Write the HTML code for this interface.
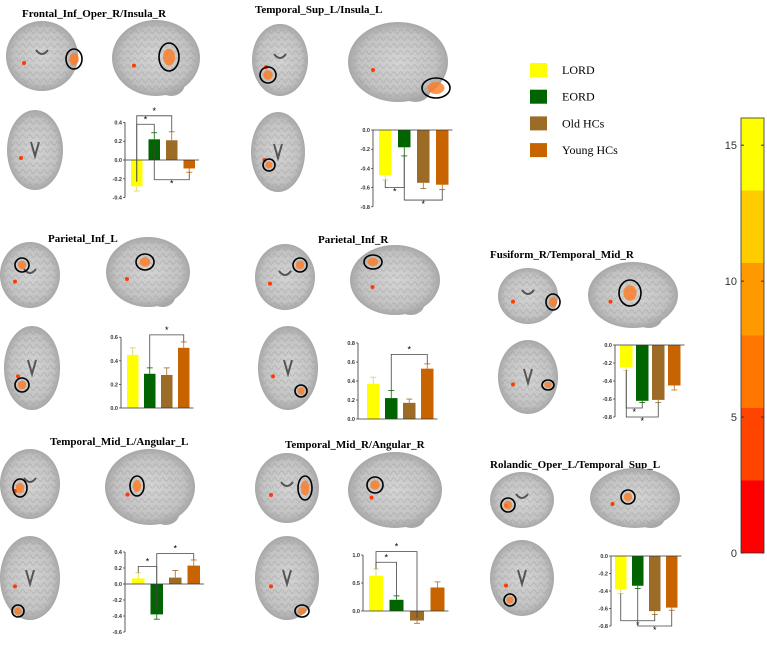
<!DOCTYPE html>
<html><head><meta charset="utf-8"><style>
body{margin:0;background:#fff}
svg{display:block}
.t{font-family:"Liberation Serif",serif;font-weight:bold;font-size:11px}
.tk{font-family:"Liberation Sans",sans-serif;font-size:5.5px;font-weight:bold;fill:#333}
.lg{font-family:"Liberation Serif",serif;font-size:12px}
.cb{font-family:"Liberation Sans",sans-serif;font-size:11px;fill:#333}
</style></head><body>
<svg id="s" width="767" height="645" viewBox="0 0 767 645" xmlns="http://www.w3.org/2000/svg">
<defs>
<radialGradient id="bg" cx="50%" cy="50%" r="55%"><stop offset="0" stop-color="#d4d4d4"/><stop offset="0.7" stop-color="#c2c2c2"/><stop offset="1" stop-color="#9a9a9a"/></radialGradient>
<pattern id="gy" width="7" height="7" patternUnits="userSpaceOnUse"><path d="M0 3.5 Q1.75 0 3.5 3.5 T7 3.5" stroke="#7a7a7a" stroke-width="0.7" fill="none"/></pattern>
</defs>
</svg>
<script>
const groups=['LORD','EORD','Old HCs','Young HCs'];
const colors=['#ffff00','#006400','#9c6b26','#c86400'];
const v1=[-0.28,0.22,0.21,-0.09], e1=[0.05,0.07,0.09,0.04], t1=[0.4,0.2,0.0,-0.2,-0.4];
const v2=[-0.47,-0.18,-0.55,-0.57], e2=[0.05,0.09,0.06,0.05], t2=[0.0,-0.2,-0.4,-0.6,-0.8];
const v3=[0.45,0.29,0.28,0.51], e3=[0.06,0.05,0.06,0.05], t3=[0.6,0.4,0.2,0.0];
const v4=[0.37,0.22,0.17,0.53], e4=[0.07,0.08,0.04,0.05], t4=[0.8,0.6,0.4,0.2,0.0];
const v5=[-0.25,-0.62,-0.61,-0.45], e5=[0.03,0.02,0.03,0.05], t5=[0.0,-0.2,-0.4,-0.6,-0.8];
const v6=[0.07,-0.38,0.08,0.23], e6=[0.07,0.06,0.09,0.07], t6=[0.4,0.2,0.0,-0.2,-0.4,-0.6];
const v7=[0.63,0.20,-0.17,0.42], e7=[0.12,0.07,0.05,0.10], t7=[1.0,0.5,0.0];
const v8=[-0.38,-0.34,-0.63,-0.59], e8=[0.05,0.03,0.04,0.03], t8=[0.0,-0.2,-0.4,-0.6,-0.8];
const b1=[[0,1,0.38],[0,2,0.47],[1,3,-0.21]];
const b2=[[0,1,-0.60],[1,3,-0.73]];
const b3=[[1,3,0.62]];
const b4=[[1,3,0.68]];
const b5=[[0,1,-0.70],[0,2,-0.80]];
const b6=[[0,1,0.22],[1,3,0.38]];
const b7=[[0,1,0.87],[0,2,1.06]];
const b8=[[0,2,-0.74],[1,3,-0.80]];
const cbTicks=[0,5,10,15];
const cbBands=['#ff0000','#ff4400','#ff7700','#ff9900','#ffcc00','#ffff00'];

const S=document.getElementById('s'),NS='http://www.w3.org/2000/svg';
function mk(tag,at,par){const e=document.createElementNS(NS,tag);for(const k in at)e.setAttribute(k,at[k]);(par||S).appendChild(e);return e;}

const charts=[
 {v:v1,e:e1,t:t1,b:b1,ax:125,y0:160,k:94,x0:131,st:17.5,w:11.5},
 {v:v2,e:e2,t:t2,b:b2,ax:373,y0:130,k:96,x0:379,st:19,w:12.5},
 {v:v3,e:e3,t:t3,b:b3,ax:121,y0:408,k:118,x0:127,st:17,w:11.5},
 {v:v4,e:e4,t:t4,b:b4,ax:358,y0:419,k:95,x0:367,st:18,w:12.5},
 {v:v5,e:e5,t:t5,b:b5,ax:615,y0:345,k:90,x0:620,st:16,w:12.5},
 {v:v6,e:e6,t:t6,b:b6,ax:125,y0:584,k:80,x0:132,st:18.5,w:12.5},
 {v:v7,e:e7,t:t7,b:b7,ax:363,y0:611,k:56,x0:369,st:20.5,w:14},
 {v:v8,e:e8,t:t8,b:b8,ax:611,y0:556,k:87.5,x0:615,st:17,w:11.5}
];
charts.forEach((c,ci)=>{
 const g=mk('g',{});
 
 
 const y=v=>c.y0-v*c.k;
 const bx=i=>c.x0+i*c.st;
 const tmax=Math.max(...c.t),tmin=Math.min(...c.t);
 mk('line',{x1:c.ax,x2:c.ax,y1:y(tmax),y2:y(tmin),stroke:'#333','stroke-width':0.8},g);
 c.t.forEach(tv=>{
  mk('line',{x1:c.ax-2,x2:c.ax,y1:y(tv),y2:y(tv),stroke:'#333','stroke-width':0.7},g);
  const tx=mk('text',{x:c.ax-3,y:y(tv)+2,'text-anchor':'end',class:'tk'},g);
  tx.textContent=tv.toFixed(1);
 });
 c.v.forEach((v,i)=>{
  const top=Math.min(y(v),c.y0),h=Math.abs(y(v)-c.y0);
  const r=mk('rect',{x:bx(i),y:top,width:c.w,height:h,fill:colors[i]},g);
  
  
  const sg=v>=0?1:-1,ee=y(v+sg*c.e[i]),cx=bx(i)+c.w/2;
  const ec=colors[i]==='#ffff00'?'#e0d060':colors[i];
  mk('line',{x1:cx,x2:cx,y1:y(v),y2:ee,stroke:ec,'stroke-width':0.8},g);
  mk('line',{x1:cx-3,x2:cx+3,y1:ee,y2:ee,stroke:ec,'stroke-width':0.8},g);
 });
 mk('line',{x1:c.ax,x2:bx(3)+c.w+4,y1:c.y0,y2:c.y0,stroke:'#333','stroke-width':0.8},g);
 c.b.forEach(([i,j,lv])=>{
  const xi=bx(i)+c.w/2,xj=bx(j)+c.w/2,yl=y(lv);
  const ei=y(c.v[i]+(lv>0?1:-1)*c.e[i]),ej=y(c.v[j]+(lv>0?1:-1)*c.e[j]);
  const p=mk('path',{d:`M${xi} ${ei} L${xi} ${yl} L${xj} ${yl} L${xj} ${ej}`,fill:'none',stroke:'#444','stroke-width':0.8},g);
  
  
  const st=mk('text',{x:(xi+xj)/2,y:lv>0?yl-2:yl+7,'text-anchor':'middle',style:'font-size:9px;font-family:Liberation Sans,sans-serif'},g);
  st.textContent='*';
 });
});

const panels=[
 {title:'Frontal_Inf_Oper_R/Insula_R',tx:22,ty:17,cor:[42,56,36,35],sag:[156,58,44,38],ax:[35,150,28,40],c:[[74,59,8,10],[169,57,10,14]]},
 {title:'Temporal_Sup_L/Insula_L',tx:255,ty:13,cor:[280,60,28,36],sag:[398,62,50,40],ax:[278,152,27,40],c:[[268,75,8,8],[436,88,14,10],[269,165,6,6]]},
 {title:'Parietal_Inf_L',tx:48,ty:242,cor:[30,275,30,33],sag:[148,272,42,35],ax:[32,368,28,42],c:[[22,265,7,7],[145,262,9,8],[22,385,7,7]]},
 {title:'Parietal_Inf_R',tx:318,ty:243,cor:[285,277,30,33],sag:[395,280,45,35],ax:[288,368,30,42],c:[[300,265,7,7],[373,262,9,7],[301,391,6,6]]},
 {title:'Fusiform_R/Temporal_Mid_R',tx:490,ty:258,cor:[528,296,30,28],sag:[633,295,45,33],ax:[528,377,30,37],c:[[553,302,7,8],[630,293,11,13],[548,385,6,5]]},
 {title:'Temporal_Mid_L/Angular_L',tx:50,ty:445,cor:[30,484,30,35],sag:[150,487,45,38],ax:[30,578,30,42],c:[[20,488,7,9],[137,486,7,10],[18,611,6,6]]},
 {title:'Temporal_Mid_R/Angular_R',tx:285,ty:448,cor:[287,488,32,35],sag:[395,490,47,38],ax:[287,578,32,42],c:[[305,488,7,12],[375,485,8,8],[302,611,7,6]]},
 {title:'Rolandic_Oper_L/Temporal_Sup_L',tx:490,ty:468,cor:[522,500,32,28],sag:[635,498,45,30],ax:[522,578,32,38],c:[[508,505,7,7],[628,497,7,7],[510,600,6,6]]}
];
panels.forEach((p,pi)=>{
 const g=mk('g',{});
 
 
 const t=mk('text',{x:p.tx,y:p.ty,class:'t'},g);t.textContent=p.title;
 
 
 [['cor',p.cor],['sag',p.sag],['ax',p.ax]].forEach(([n,b])=>{
  const [cx,cy,rx,ry]=b;
  if(n==='sag') mk('ellipse',{cx:cx+rx*0.35,cy:cy+ry*0.7,rx:rx*0.3,ry:ry*0.3,fill:'#a8a8a8'},g);
  const el=mk('ellipse',{cx,cy,rx,ry,fill:'url(#bg)'},g);
  
  
  mk('ellipse',{cx,cy,rx:rx*0.9,ry:ry*0.9,fill:'url(#gy)',opacity:0.35},g);
  if(n==='cor') mk('path',{d:`M${cx-6} ${cy-6} Q${cx} ${cy+2} ${cx+6} ${cy-6}`,stroke:'#555','stroke-width':2,fill:'none'},g);
  if(n==='ax') mk('path',{d:`M${cx-4} ${cy-8} L${cx} ${cy+6} L${cx+4} ${cy-8}`,stroke:'#555','stroke-width':2,fill:'none'},g);
  mk('circle',{cx:cx-rx*0.5,cy:cy+ry*0.2,r:2,fill:'#ff3a00'},g);
 });
 p.c.forEach(([x,y,rx,ry])=>{
  mk('ellipse',{cx:x,cy:y,rx:rx*0.6,ry:ry*0.6,fill:'#ff7a20',opacity:0.8},g);
  mk('ellipse',{cx:x,cy:y,rx,ry,fill:'none',stroke:'#000','stroke-width':1.6},g);
 });
});

const lg=mk('g',{});


groups.forEach((n,i)=>{
 const yy=63+i*26.7;
 const r=mk('rect',{x:530,y:yy,width:17,height:14,fill:colors[i]},lg);
 
 
 const t=mk('text',{x:562,y:yy+11,class:'lg'},lg);t.textContent=n;
 
 
});

const cb=mk('g',{});


const cbTop=118,cbBot=553,cbMax=16,cy=v=>cbBot-v*(cbBot-cbTop)/cbMax;
cbBands.forEach((c,i)=>{
 const lo=i*cbMax/cbBands.length,hi=(i+1)*cbMax/cbBands.length;
 mk('rect',{x:741,y:cy(hi),width:23,height:cy(lo)-cy(hi),fill:c},cb);
});
mk('rect',{x:741,y:cbTop,width:23,height:cbBot-cbTop,fill:'none',stroke:'#333','stroke-width':0.8},cb);
cbTicks.forEach(tv=>{
 mk('line',{x1:741,x2:744,y1:cy(tv),y2:cy(tv),stroke:'#333'},cb);
 mk('line',{x1:761,x2:764,y1:cy(tv),y2:cy(tv),stroke:'#333'},cb);
 const t=mk('text',{x:737,y:cy(tv)+4,'text-anchor':'end',class:'cb'},cb);t.textContent=tv;
});
</script>
</body></html>
